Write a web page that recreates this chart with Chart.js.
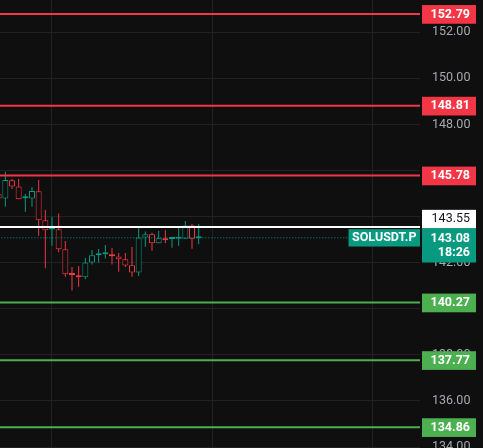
<!DOCTYPE html>
<html>
<head>
<meta charset="utf-8">
<script src="https://cdn.jsdelivr.net/npm/chart.js@4.4.1/dist/chart.umd.min.js"></script>
<style>
  html, body { margin: 0; padding: 0; background: #0f0f0f; overflow: hidden; }
  #wrap { width: 483px; height: 448px; position: relative; }
</style>
</head>
<body>
<div id="wrap"><canvas id="chart"></canvas></div>
<script>
// OHLC per bar (bar 0 is cut off by the left edge)
const opens  = [144.97, 144.79, 145.58, 145.31, 144.80, 144.79, 145.10, 143.84, 143.44, 143.45, 142.58,
                141.48, 141.45, 141.37, 142.01, 142.32, 142.37, 142.37, 142.27, 142.15, 141.89,
                141.58, 143.09, 143.23, 142.84, 143.06, 143.03, 143.04, 143.04, 143.61, 143.06];
const highs  = [145.05, 145.95, 145.63, 145.63, 144.98, 145.27, 145.59, 144.29, 144.00, 144.14, 142.94,
                141.81, 141.86, 142.20, 142.55, 142.59, 142.77, 142.64, 142.42, 142.42, 142.68,
                143.59, 143.35, 143.30, 143.38, 143.42, 143.13, 143.52, 143.81, 143.68, 143.68];
const lows   = [144.76, 144.43, 145.20, 144.75, 144.21, 144.43, 143.17, 141.76, 142.74, 142.45, 141.39,
                140.79, 140.96, 141.28, 141.92, 142.01, 142.18, 141.92, 141.61, 141.81, 141.39,
                141.42, 142.69, 142.52, 142.84, 142.84, 142.65, 142.74, 143.04, 142.61, 142.80];
const closes = [144.79, 145.59, 145.31, 144.75, 144.81, 145.11, 143.84, 143.41, 143.45, 142.58, 141.50,
                141.47, 141.37, 142.01, 142.32, 142.33, 142.38, 142.28, 142.15, 141.88, 141.58,
                143.09, 143.23, 142.84, 143.06, 142.97, 143.04, 143.05, 143.61, 143.04, 143.08];

const resistanceLevels = [152.79, 148.81, 145.78];
const supportLevels    = [140.27, 137.77, 134.86];
const alertLevel = 143.55;
const lastPrice  = 143.08;
const symbolName = 'SOLUSDT.P';
const countdown  = '18:26';
const yTicks = [134, 136, 138, 140, 142, 144, 146, 148, 150, 152];
const hiddenTickLabels = [144, 146];
const xGridAt = [8, 32, 56];

const UP = '#089981', DOWN = '#f23645', SUPPORT = '#4caf50', BG = '#0f0f0f', GRID = '#222222';
const FONT = 'Roboto, "Liberation Sans", sans-serif';

const idx = opens.map((o, i) => i);
const colors = idx.map(i => closes[i] >= opens[i] ? UP : DOWN);

const wickData = idx.map(i => ({ x: i, y: [lows[i], highs[i]] }));
const bodyData = idx.map(i => ({ x: i, y: [Math.min(opens[i], closes[i]), Math.max(opens[i], closes[i])] }));

function levelLine(v, color, width, dash) {
    return {
        type: 'line',
        data: [{ x: -5, y: v }, { x: 80, y: v }],
        borderColor: color,
        borderWidth: width,
        borderDash: dash || [],
        pointRadius: 0,
        order: 0
    };
}

const datasets = [
    {
        type: 'bar', data: wickData, backgroundColor: colors, borderWidth: 0,
        barThickness: 1, grouped: false, inflateAmount: 0, order: 2
    },
    {
        type: 'bar', data: bodyData, backgroundColor: BG, borderColor: colors, borderWidth: 1,
        borderSkipped: false, barThickness: 6, minBarLength: 2, grouped: false, inflateAmount: 0, order: 1
    },
    ...resistanceLevels.map(v => levelLine(v, DOWN, 2)),
    ...supportLevels.map(v => levelLine(v, SUPPORT, 2)),
    levelLine(alertLevel, '#ffffff', 2),
    levelLine(lastPrice, UP, 1, [1, 2])
];

function box(ctx, x, y, w, h, fill) {
    ctx.fillStyle = fill;
    ctx.fillRect(x, y, w, h);
}

const priceLabels = {
    id: 'priceLabels',
    afterDatasetsDraw(chart) {
        const { ctx, chartArea, scales: { y } } = chart;
        const left = chartArea.right + 2, w = 54, textX = left + 48;
        ctx.save();
        ctx.textAlign = 'right';
        ctx.textBaseline = 'middle';
        ctx.font = 'bold 12.5px ' + FONT;

        const levels = resistanceLevels.map(v => [v, DOWN]).concat(supportLevels.map(v => [v, SUPPORT]));
        levels.forEach(([v, c]) => {
            const py = y.getPixelForValue(v);
            box(ctx, left, py - 9, w, 18.7, c);
            ctx.fillStyle = '#ffffff';
            ctx.fillText(v.toFixed(2), textX, py + 0.5);
        });

        // last price block with countdown
        const pc = y.getPixelForValue(lastPrice);
        const top = pc - 9.7;
        box(ctx, left, top, w, 34.4, UP);
        ctx.fillStyle = '#ffffff';
        ctx.fillText(lastPrice.toFixed(2), textX, top + 10.3);
        ctx.fillText(countdown, textX, top + 24.5);

        // alert level, pushed up above the last price block
        box(ctx, left, top - 18.3, w, 18.3, '#ffffff');
        ctx.fillStyle = '#131722';
        ctx.font = '12.5px ' + FONT;
        ctx.fillText(alertLevel.toFixed(2), textX, top - 8.8);

        // symbol tag on the last price line
        ctx.font = 'bold 12.5px ' + FONT;
        const tw = ctx.measureText(symbolName).width + 7;
        box(ctx, chartArea.right - tw, pc - 8.7, tw, 17.4, UP);
        ctx.fillStyle = '#ffffff';
        ctx.textAlign = 'left';
        ctx.fillText(symbolName, chartArea.right - tw + 3.5, pc + 0.5);
        ctx.restore();
    }
};

Chart.defaults.font.family = FONT;

new Chart(document.getElementById('chart'), {
    type: 'bar',
    data: { datasets },
    plugins: [priceLabels],
    options: {
        responsive: true,
        maintainAspectRatio: false,
        animation: false,
        layout: { padding: 0 },
        plugins: { legend: { display: false }, tooltip: { enabled: false } },
        scales: {
            x: {
                type: 'linear',
                offset: false,
                min: 0.2,
                max: 63.2,
                afterBuildTicks: s => { s.ticks = xGridAt.map(v => ({ value: v })); },
                afterFit: s => { s.height = 0; s.paddingLeft = 0; s.paddingRight = 0; },
                grid: { color: GRID, drawTicks: false, offset: false },
                border: { display: false },
                ticks: { display: false }
            },
            y: {
                position: 'right',
                min: 133.96,
                max: 153.40,
                afterBuildTicks: s => { s.ticks = yTicks.map(v => ({ value: v })); },
                afterFit: s => { s.width = 63; s.paddingTop = 0; s.paddingBottom = 0; },
                grid: { color: GRID, drawTicks: false },
                border: { display: false },
                ticks: {
                    color: '#a6a9b0',
                    padding: 12,
                    crossAlign: 'near',
                    font: { size: 12.5 },
                    callback: v => hiddenTickLabels.includes(v) ? '' : Number(v).toFixed(2)
                }
            }
        }
    }
});
</script>
</body>
</html>
